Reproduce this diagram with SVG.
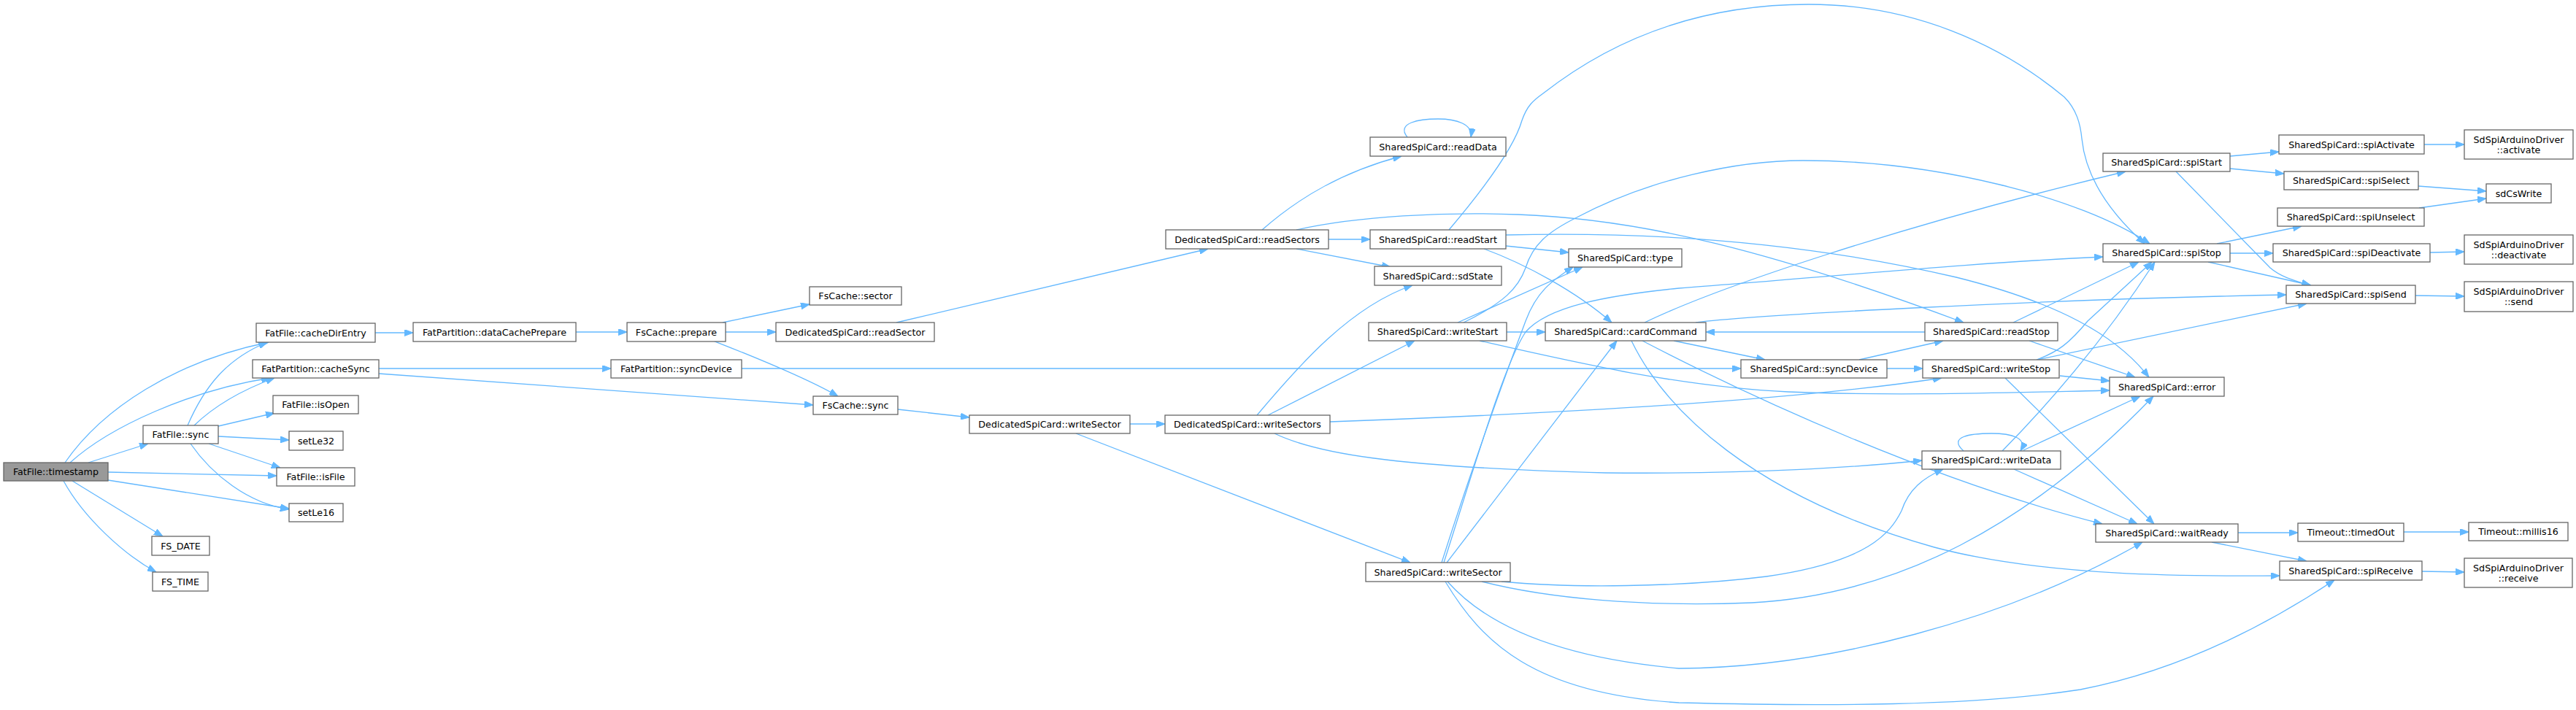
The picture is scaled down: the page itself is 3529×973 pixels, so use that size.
<svg xmlns="http://www.w3.org/2000/svg" width="3529" height="973" viewBox="0 0 3529 973">
<style>
.node rect{fill:#fff;stroke:#666;stroke-width:1.3}
.start rect{fill:#999}
text{font-family:"DejaVu Sans","Liberation Sans",sans-serif;font-size:12.7px;text-anchor:middle;fill:#000}
.edges path{fill:none;stroke:#63b8ff;stroke-width:1.3;marker-end:url(#arr)}
</style>
<defs>
<marker id="arr" markerUnits="userSpaceOnUse" viewBox="0 0 12 9" markerWidth="12" markerHeight="9" refX="12" refY="4.5" orient="auto">
<path d="M0,0 L12,4.5 L0,9 z" fill="#63b8ff" stroke="#63b8ff"/>
</marker>
</defs>
<rect width="3529" height="973" fill="#fff"/>
<g class="edges" id="edges">
<path d="M89,634 C140,560 240,495 368,469"/>
<path d="M96,634 C150,585 260,535 370,518"/>
<path d="M121,634 L203,608"/>
<path d="M148,647 L379,652"/>
<path d="M148,658 L396,697"/>
<path d="M99,659 L223,735"/>
<path d="M87,659 C115,710 170,760 214,784"/>
<path d="M257,583 C280,530 310,492 366,469"/>
<path d="M266,583 C295,555 330,535 376,518"/>
<path d="M299,584 L376,566"/>
<path d="M299,598 L396,603"/>
<path d="M286,608 L384,641"/>
<path d="M261,608 C290,650 340,690 396,698"/>
<path d="M514,456 L566,456"/>
<path d="M519,505 L837,505"/>
<path d="M519,512 L1114,555"/>
<path d="M789,455 L859,455"/>
<path d="M990,442 L1109,417"/>
<path d="M994,455 L1063,455"/>
<path d="M977,467 C1010,480 1100,515 1148,543"/>
<path d="M1228,442 L1655,341"/>
<path d="M1016,505 L2385,505"/>
<path d="M1230,561 L1328,572"/>
<path d="M1548,581 L1596,581"/>
<path d="M1474,594 L1932,771"/>
<path d="M1729,315 C1780,270 1840,235 1920,214"/>
<path d="M1820,328 L1877,328"/>
<path d="M1776,341 L1905,366"/>
<path d="M1776,315 C1860,296 1980,290 2080,294 C2250,300 2430,345 2690,442"/>
<path d="M1928,188 C1912,168 1945,163 1970,163 C1995,163 2018,170 2015,188"/>
<path d="M1985,315 C2040,250 2075,200 2085,165 C2092,145 2100,138 2114,128 C2220,45 2340,6 2478,6 C2620,6 2740,60 2828,133 C2845,150 2850,170 2852,190 C2858,250 2900,300 2938,334"/>
<path d="M2063,337 L2149,346"/>
<path d="M2033,341 C2090,362 2160,400 2208,442"/>
<path d="M2063,322 C2300,316 2500,338 2680,380 C2820,415 2900,460 2944,517"/>
<path d="M1997,442 L2168,366"/>
<path d="M2005,442 C2060,415 2080,395 2090,367 C2100,335 2120,318 2160,298 C2260,245 2380,220 2470,220 C2650,220 2850,270 2945,334"/>
<path d="M2064,455 L2117,455"/>
<path d="M2027,467 C2150,495 2300,530 2450,537 C2600,543 2750,538 2890,535"/>
<path d="M1975,771 C2010,660 2060,520 2090,440 C2105,400 2125,385 2155,366"/>
<path d="M1978,771 C2020,640 2060,500 2090,455 C2120,420 2200,405 2300,395 C2500,380 2700,360 2881,352"/>
<path d="M1982,771 L2215,467"/>
<path d="M2030,797 C2120,820 2250,832 2400,826 C2600,815 2780,720 2950,543"/>
<path d="M2057,797 C2150,806 2300,805 2420,790 C2560,770 2590,730 2605,700 C2615,670 2635,655 2662,643"/>
<path d="M1983,797 C2030,850 2120,900 2300,916 C2500,915 2750,850 2935,743"/>
<path d="M1980,797 C2030,880 2100,950 2300,963 C2500,968 2700,968 2850,945 C2980,920 3100,860 3198,795"/>
<path d="M1722,569 C1780,500 1850,420 1935,391"/>
<path d="M1737,569 L1938,467"/>
<path d="M1822,578 C2100,568 2450,550 2660,518"/>
<path d="M1746,594 C1800,620 1900,640 2200,648 C2400,650 2550,640 2633,631"/>
<path d="M2253,442 C2350,395 2600,310 2912,235"/>
<path d="M2323,442 C2400,432 2800,410 3132,404"/>
<path d="M2293,467 L2418,493"/>
<path d="M2250,467 C2400,545 2650,660 2880,718"/>
<path d="M2235,467 C2280,560 2400,680 2650,750 C2800,790 3000,790 3123,789"/>
<path d="M2547,493 L2662,467"/>
<path d="M2585,505 L2634,505"/>
<path d="M2637,455 L2337,455"/>
<path d="M2758,442 L2930,359"/>
<path d="M2780,467 L2925,517"/>
<path d="M2790,493 C2820,482 2835,470 2860,440 L2948,359"/>
<path d="M2791,493 L3160,416"/>
<path d="M2822,515 L2890,522"/>
<path d="M2747,518 L2951,718"/>
<path d="M2690,618 C2668,598 2700,594 2728,594 C2756,594 2778,600 2768,618"/>
<path d="M2743,618 C2800,560 2880,470 2952,359"/>
<path d="M2772,617 L2932,543"/>
<path d="M2759,643 L2928,718"/>
<path d="M3055,214 L3122,208"/>
<path d="M3055,231 L3129,238"/>
<path d="M2981,235 L3110,367 C3125,380 3145,385 3165,391"/>
<path d="M3321,198 L3376,198"/>
<path d="M3313,255 L3406,262"/>
<path d="M3314,285 L3406,272"/>
<path d="M3037,334 L3153,310"/>
<path d="M3055,347 L3114,347"/>
<path d="M3025,359 L3166,391"/>
<path d="M3329,346 L3376,345"/>
<path d="M3309,405 L3376,406"/>
<path d="M3066,730 L3148,730"/>
<path d="M3030,743 L3160,769"/>
<path d="M3293,729 L3382,729"/>
<path d="M3318,783 L3376,784"/>
</g>
<g class="node start" id="n_timestamp"><rect x="5" y="634" width="143" height="25"/><text x="76.5" y="651">FatFile::timestamp</text></g>
<g class="node" id="n_sync"><rect x="196" y="583" width="103" height="25"/><text x="247.5" y="600">FatFile::sync</text></g>
<g class="node" id="n_fsdate"><rect x="208" y="735" width="79" height="26"/><text x="247.5" y="752.5">FS_DATE</text></g>
<g class="node" id="n_fstime"><rect x="209" y="784" width="76" height="26"/><text x="247" y="801.5">FS_TIME</text></g>
<g class="node" id="n_cacheDirEntry"><rect x="351" y="443" width="163" height="26"/><text x="432.5" y="460.5">FatFile::cacheDirEntry</text></g>
<g class="node" id="n_cacheSync"><rect x="346" y="493" width="173" height="25"/><text x="432.5" y="510">FatPartition::cacheSync</text></g>
<g class="node" id="n_isOpen"><rect x="374" y="542" width="117" height="25"/><text x="432.5" y="559">FatFile::isOpen</text></g>
<g class="node" id="n_setLe32"><rect x="396" y="591" width="74" height="26"/><text x="433" y="608.5">setLe32</text></g>
<g class="node" id="n_isFile"><rect x="379" y="641" width="107" height="25"/><text x="432.5" y="658">FatFile::isFile</text></g>
<g class="node" id="n_setLe16"><rect x="396" y="690" width="74" height="25"/><text x="433" y="707">setLe16</text></g>
<g class="node" id="n_dataCachePrepare"><rect x="566" y="442" width="223" height="26"/><text x="677.5" y="459.5">FatPartition::dataCachePrepare</text></g>
<g class="node" id="n_prepare"><rect x="859" y="442" width="135" height="26"/><text x="926.5" y="459.5">FsCache::prepare</text></g>
<g class="node" id="n_fpSyncDevice"><rect x="837" y="493" width="179" height="25"/><text x="926.5" y="510">FatPartition::syncDevice</text></g>
<g class="node" id="n_sector"><rect x="1109" y="393" width="126" height="25"/><text x="1172" y="410">FsCache::sector</text></g>
<g class="node" id="n_readSector"><rect x="1063" y="442" width="217" height="26"/><text x="1171.5" y="459.5">DedicatedSpiCard::readSector</text></g>
<g class="node" id="n_fsSync"><rect x="1114" y="543" width="116" height="25"/><text x="1172" y="560">FsCache::sync</text></g>
<g class="node" id="n_dWriteSector"><rect x="1328" y="569" width="220" height="25"/><text x="1438" y="586">DedicatedSpiCard::writeSector</text></g>
<g class="node" id="n_readSectors"><rect x="1597" y="315" width="223" height="26"/><text x="1708.5" y="332.5">DedicatedSpiCard::readSectors</text></g>
<g class="node" id="n_writeSectors"><rect x="1596" y="569" width="226" height="25"/><text x="1709" y="586">DedicatedSpiCard::writeSectors</text></g>
<g class="node" id="n_readData"><rect x="1877" y="188" width="186" height="26"/><text x="1970" y="205.5">SharedSpiCard::readData</text></g>
<g class="node" id="n_readStart"><rect x="1877" y="315" width="186" height="26"/><text x="1970" y="332.5">SharedSpiCard::readStart</text></g>
<g class="node" id="n_sdState"><rect x="1883" y="365" width="174" height="26"/><text x="1970" y="382.5">SharedSpiCard::sdState</text></g>
<g class="node" id="n_writeStart"><rect x="1875" y="442" width="189" height="25"/><text x="1969.5" y="459">SharedSpiCard::writeStart</text></g>
<g class="node" id="n_sWriteSector"><rect x="1871" y="771" width="198" height="26"/><text x="1970" y="788.5">SharedSpiCard::writeSector</text></g>
<g class="node" id="n_type"><rect x="2149" y="341" width="155" height="25"/><text x="2226.5" y="358">SharedSpiCard::type</text></g>
<g class="node" id="n_cardCommand"><rect x="2117" y="442" width="220" height="25"/><text x="2227" y="459">SharedSpiCard::cardCommand</text></g>
<g class="node" id="n_sSyncDevice"><rect x="2385" y="493" width="200" height="25"/><text x="2485" y="510">SharedSpiCard::syncDevice</text></g>
<g class="node" id="n_readStop"><rect x="2637" y="442" width="182" height="25"/><text x="2728" y="459">SharedSpiCard::readStop</text></g>
<g class="node" id="n_writeStop"><rect x="2634" y="493" width="187" height="25"/><text x="2727.5" y="510">SharedSpiCard::writeStop</text></g>
<g class="node" id="n_writeData"><rect x="2633" y="618" width="190" height="25"/><text x="2728" y="635">SharedSpiCard::writeData</text></g>
<g class="node" id="n_spiStart"><rect x="2881" y="210" width="174" height="25"/><text x="2968" y="227">SharedSpiCard::spiStart</text></g>
<g class="node" id="n_spiStop"><rect x="2881" y="334" width="174" height="25"/><text x="2968" y="351">SharedSpiCard::spiStop</text></g>
<g class="node" id="n_error"><rect x="2890" y="517" width="157" height="26"/><text x="2968.5" y="534.5">SharedSpiCard::error</text></g>
<g class="node" id="n_waitReady"><rect x="2871" y="718" width="195" height="25"/><text x="2968.5" y="735">SharedSpiCard::waitReady</text></g>
<g class="node" id="n_spiActivate"><rect x="3122" y="185" width="199" height="26"/><text x="3221.5" y="202.5">SharedSpiCard::spiActivate</text></g>
<g class="node" id="n_spiSelect"><rect x="3129" y="235" width="184" height="25"/><text x="3221" y="252">SharedSpiCard::spiSelect</text></g>
<g class="node" id="n_spiUnselect"><rect x="3120" y="285" width="201" height="25"/><text x="3220.5" y="302">SharedSpiCard::spiUnselect</text></g>
<g class="node" id="n_spiDeactivate"><rect x="3114" y="334" width="215" height="25"/><text x="3221.5" y="351">SharedSpiCard::spiDeactivate</text></g>
<g class="node" id="n_spiSend"><rect x="3132" y="391" width="177" height="25"/><text x="3220.5" y="408">SharedSpiCard::spiSend</text></g>
<g class="node" id="n_timedOut"><rect x="3148" y="717" width="145" height="25"/><text x="3220.5" y="734">Timeout::timedOut</text></g>
<g class="node" id="n_spiReceive"><rect x="3123" y="769" width="195" height="26"/><text x="3220.5" y="786.5">SharedSpiCard::spiReceive</text></g>
<g class="node" id="n_activate"><rect x="3376" y="178" width="149" height="40"/><text x="3450.5" y="195.5">SdSpiArduinoDriver</text><text x="3450.5" y="209.5">::activate</text></g>
<g class="node" id="n_sdCsWrite"><rect x="3406" y="252" width="89" height="26"/><text x="3450.5" y="269.5">sdCsWrite</text></g>
<g class="node" id="n_deactivate"><rect x="3376" y="322" width="149" height="40"/><text x="3450.5" y="339.5">SdSpiArduinoDriver</text><text x="3450.5" y="353.5">::deactivate</text></g>
<g class="node" id="n_send"><rect x="3376" y="386" width="149" height="41"/><text x="3450.5" y="403.5">SdSpiArduinoDriver</text><text x="3450.5" y="417.5">::send</text></g>
<g class="node" id="n_millis16"><rect x="3382" y="716" width="136" height="25"/><text x="3450" y="733">Timeout::millis16</text></g>
<g class="node" id="n_receive"><rect x="3376" y="765" width="148" height="40"/><text x="3450" y="782.5">SdSpiArduinoDriver</text><text x="3450" y="796.5">::receive</text></g>
</svg>
